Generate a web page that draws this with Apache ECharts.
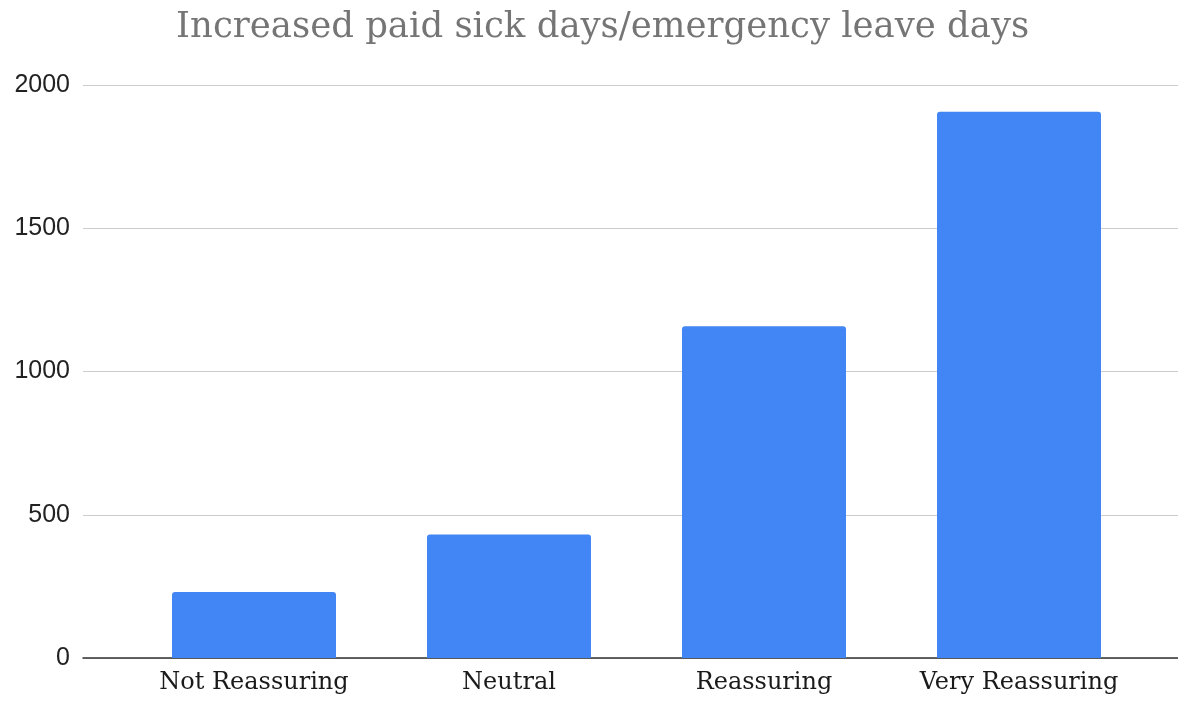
<!DOCTYPE html>
<html>
<head>
<meta charset="utf-8">
<script src="https://cdn.jsdelivr.net/npm/echarts@6/dist/echarts.min.js"></script>
<style>
html,body{margin:0;padding:0;background:#fff;}
#chart{width:1178px;height:704px;}
</style>
</head>
<body>
<div id="chart"></div>
<script>
const titleText = 'Increased paid sick days/emergency leave days';
const categories = ['Not Reassuring', 'Neutral', 'Reassuring', 'Very Reassuring'];
const values = [230, 431, 1158, 1907];
const yTicks = [0, 500, 1000, 1500, 2000];

const chart = echarts.init(document.getElementById('chart'));
const yMin = yTicks[0], yMax = yTicks[yTicks.length - 1], yStep = yTicks[1] - yTicks[0];

chart.setOption({
  animation: false,
  backgroundColor: '#ffffff',
  title: {
    text: titleText,
    left: 171,
    top: 5,
    textStyle: { fontFamily: 'DejaVu Serif', fontSize: 35.5, fontWeight: 'normal', color: '#757575' }
  },
  grid: [
    { left: 83, right: 0, top: 85, bottom: 46 },
    { left: 126.5, right: 31.5, top: 85, bottom: 46 }
  ],
  xAxis: [
    { type: 'value', gridIndex: 0, min: 0, max: 1, axisLabel: { show: false }, axisTick: { show: false },
      splitLine: { show: false }, axisLine: { show: true, onZero: false, lineStyle: { color: '#333333', width: 1.5 } } },
    { type: 'category', gridIndex: 1, data: categories, axisTick: { show: false }, axisLine: { show: false },
      axisLabel: { interval: 0, hideOverlap: false, fontFamily: 'DejaVu Serif', fontSize: 24, color: '#1a1a1a', margin: 13 } }
  ],
  yAxis: [
    { type: 'value', gridIndex: 0, min: yMin, max: yMax, interval: yStep,
      axisLine: { show: false }, axisTick: { show: false },
      axisLabel: { fontFamily: 'Liberation Sans', fontSize: 25, color: '#222222', margin: 13,
        formatter: function (v) { return String(v); } },
      splitLine: { lineStyle: { color: '#cccccc', width: 1.2 } } },
    { type: 'value', gridIndex: 1, min: yMin, max: yMax, interval: yStep, show: false, splitLine: { show: false } }
  ],
  series: [
    { type: 'bar', xAxisIndex: 1, yAxisIndex: 1, data: values, barWidth: 164,
      itemStyle: { color: '#4285F4', borderRadius: [3, 3, 0, 0] }, z: 1 }
  ]
});
</script>
</body>
</html>
